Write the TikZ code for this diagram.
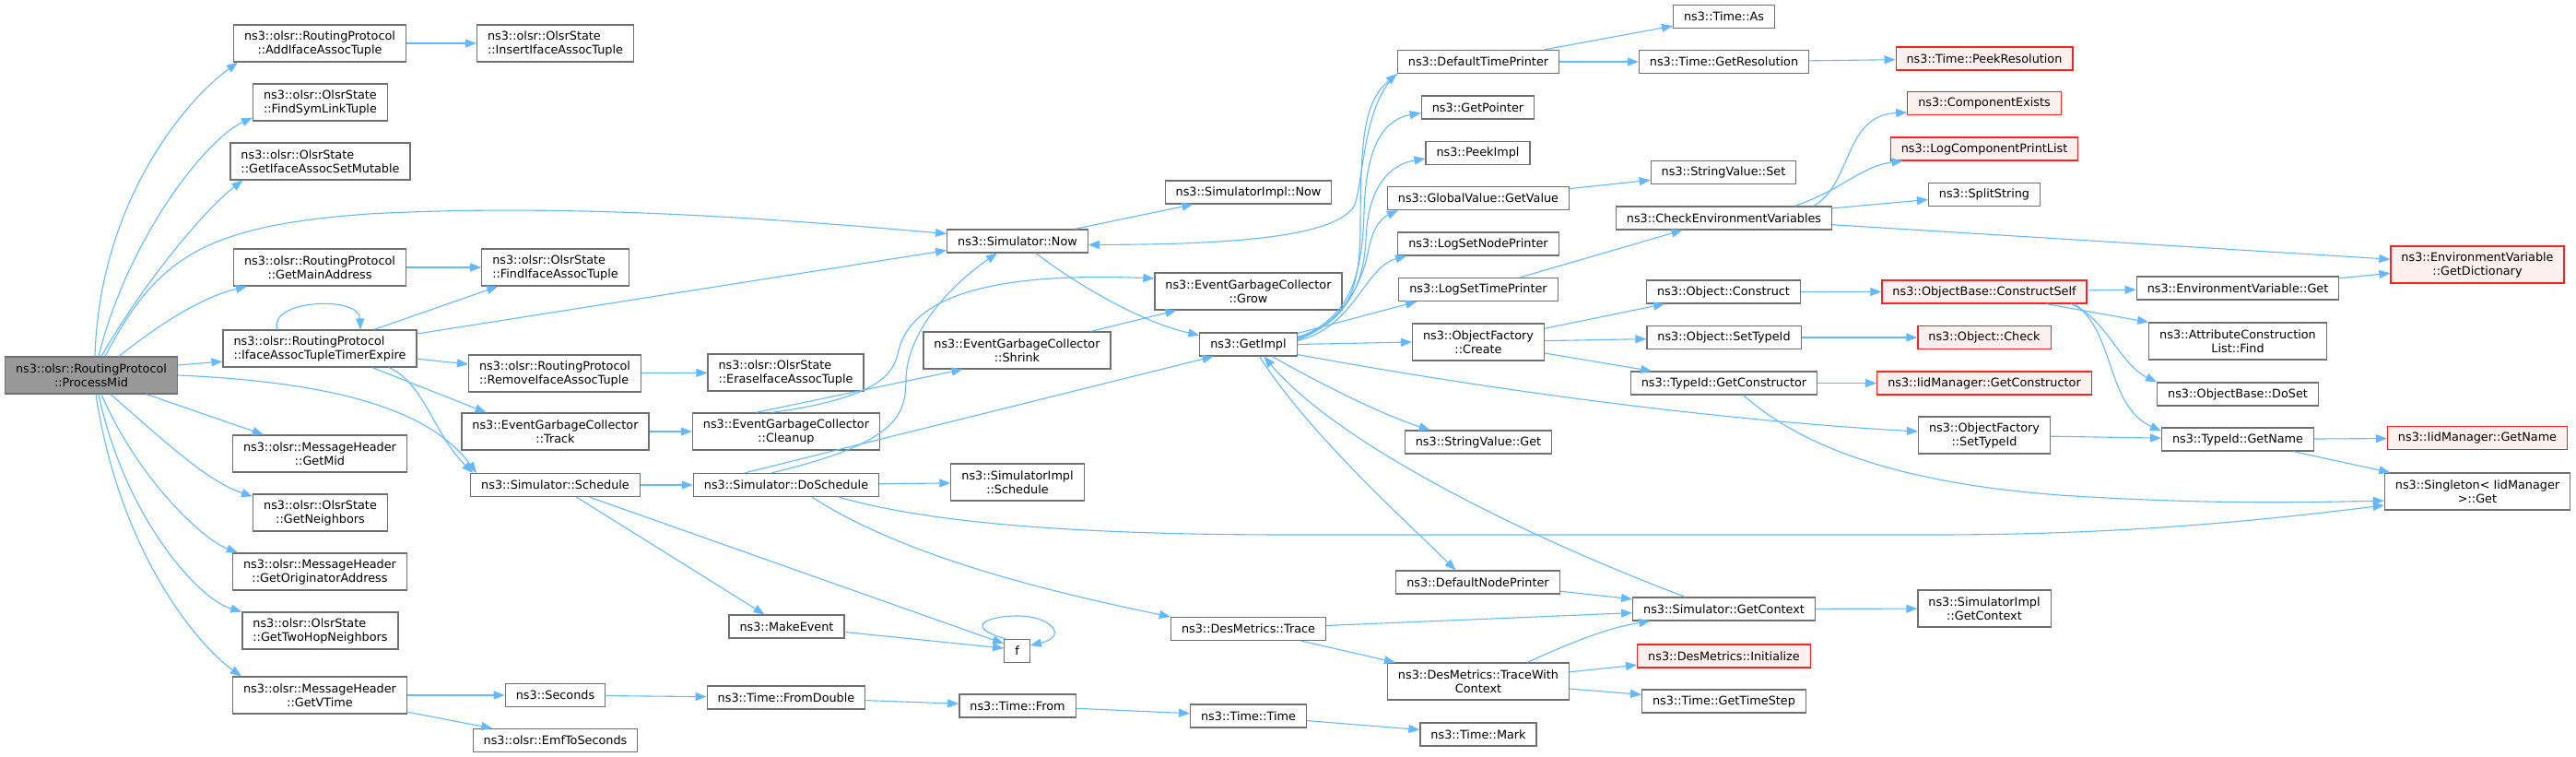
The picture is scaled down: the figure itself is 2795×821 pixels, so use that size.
\documentclass[tikz,border=0pt]{standalone}
\usepackage{fontspec}
\setmainfont{DejaVu Sans}
\usepackage{tikz}
\usetikzlibrary{arrows.meta}

\definecolor{edgeblue}{HTML}{63B8FF}
\definecolor{boxgray}{HTML}{707070}
\definecolor{rootgray}{HTML}{999999}
\definecolor{extfill}{HTML}{FFF0F0}
\definecolor{extred}{HTML}{FF2020}

\begin{document}
\begin{tikzpicture}[x=1pt, y=-1pt,
		fn/.style={draw=boxgray, line width=1.2pt, fill=white, minimum height=25pt, inner xsep=11.5pt, inner ysep=0pt, font=\fontsize{12.8}{15}\selectfont, align=center},
		two/.style={minimum height=40pt},
		lft/.style={align=left},
		ext/.style={draw=extred, fill=extfill},
		root/.style={fill=rootgray},
		call/.style={edgeblue, line width=1.1pt, -{Triangle[length=12pt,width=9pt]}}]
		\useasboundingbox (0,0) rectangle (2795,821);
		%%
		\node[fn,two,root] (pm) at (99,407) {ns3::olsr::RoutingProtocol\\::ProcessMid};
		%%
		\node[fn,two] (addt) at (347,47) {ns3::olsr::RoutingProtocol\\::AddIfaceAssocTuple};
		\node[fn,two,lft] (fslt) at (347.5,111) {ns3::olsr::OlsrState\\::FindSymLinkTuple};
		\node[fn,two,lft] (giasm) at (347.5,175) {ns3::olsr::OlsrState\\::GetIfaceAssocSetMutable};
		\node[fn,two] (gma) at (347,290) {ns3::olsr::RoutingProtocol\\::GetMainAddress};
		\node[fn,two,lft] (iatte) at (347,378) {ns3::olsr::RoutingProtocol\\::IfaceAssocTupleTimerExpire};
		\node[fn,two] (gmid) at (347,492) {ns3::olsr::MessageHeader\\::GetMid};
		\node[fn,two] (gnb) at (347.5,556) {ns3::olsr::OlsrState\\::GetNeighbors};
		\node[fn,two] (goa) at (347,620) {ns3::olsr::MessageHeader\\::GetOriginatorAddress};
		\node[fn,two,lft] (gthn) at (347.5,684) {ns3::olsr::OlsrState\\::GetTwoHopNeighbors};
		\node[fn,two] (gvt) at (347,754) {ns3::olsr::MessageHeader\\::GetVTime};
		%%
		\node[fn,two,lft] (insiat) at (602.5,47) {ns3::olsr::OlsrState\\::InsertIfaceAssocTuple};
		\node[fn,two,lft] (fiat) at (602.5,290) {ns3::olsr::OlsrState\\::FindIfaceAssocTuple};
		\node[fn,two,lft] (rmiat) at (602,405) {ns3::olsr::RoutingProtocol\\::RemoveIfaceAssocTuple};
		\node[fn,two] (egctrack) at (602.5,468) {ns3::EventGarbageCollector\\::Track};
		\node[fn] (sched) at (602.5,526) {ns3::Simulator::Schedule};
		\node[fn] (secs) at (602.5,754) {ns3::Seconds};
		\node[fn] (emf) at (602.5,803) {ns3::olsr::EmfToSeconds};
		%%
		\node[fn,two,lft] (eiat) at (852.5,404) {ns3::olsr::OlsrState\\::EraseIfaceAssocTuple};
		\node[fn,two] (egccleanup) at (853,468) {ns3::EventGarbageCollector\\::Cleanup};
		\node[fn] (dosched) at (853,526) {ns3::Simulator::DoSchedule};
		\node[fn] (mkev) at (853.5,679.5) {ns3::MakeEvent};
		\node[fn] (fromdbl) at (853,756.5) {ns3::Time::FromDouble};
		%%
		\node[fn] (now) at (1104,261.5) {ns3::Simulator::Now};
		\node[fn,two] (shrink) at (1103.5,380) {ns3::EventGarbageCollector\\::Shrink};
		\node[fn,two] (simschd) at (1104,523) {ns3::SimulatorImpl\\::Schedule};
		\node[fn] (f) at (1103.5,706) {f};
		\node[fn] (from) at (1104,765.5) {ns3::Time::From};
		%%
		\node[fn] (simnow) at (1354.5,208.5) {ns3::SimulatorImpl::Now};
		\node[fn,two] (grow) at (1354.5,316) {ns3::EventGarbageCollector\\::Grow};
		\node[fn] (getimpl) at (1354.5,373.5) {ns3::GetImpl};
		\node[fn] (trace) at (1354.5,682) {ns3::DesMetrics::Trace};
		\node[fn] (ttime) at (1354.5,776.5) {ns3::Time::Time};
		%%
		\node[fn] (dtp) at (1604,67) {ns3::DefaultTimePrinter};
		\node[fn] (gptr) at (1603.5,116.5) {ns3::GetPointer};
		\node[fn] (peek) at (1603.5,166) {ns3::PeekImpl};
		\node[fn] (gvval) at (1604,215) {ns3::GlobalValue::GetValue};
		\node[fn] (lsnp) at (1604,264.5) {ns3::LogSetNodePrinter};
		\node[fn] (lstp) at (1604,314) {ns3::LogSetTimePrinter};
		\node[fn,two] (ofcreate) at (1604,371) {ns3::ObjectFactory\\::Create};
		\node[fn] (svget) at (1604,479.5) {ns3::StringValue::Get};
		\node[fn] (dnp) at (1603.5,631.5) {ns3::DefaultNodePrinter};
		\node[fn,two] (twc) at (1604,739) {ns3::DesMetrics::TraceWith\\Context};
		\node[fn] (mark) at (1604,796.5) {ns3::Time::Mark};
		%%
		\node[fn] (tas) at (1870.5,18) {ns3::Time::As};
		\node[fn] (gres) at (1870.5,67) {ns3::Time::GetResolution};
		\node[fn] (svset) at (1870,187) {ns3::StringValue::Set};
		\node[fn] (cev) at (1870.5,236.5) {ns3::CheckEnvironmentVariables};
		\node[fn] (oconstr) at (1870,316.5) {ns3::Object::Construct};
		\node[fn] (osettid) at (1870.5,366) {ns3::Object::SetTypeId};
		\node[fn] (tgc) at (1870.5,415.5) {ns3::TypeId::GetConstructor};
		\node[fn] (sgctx) at (1870.5,660.5) {ns3::Simulator::GetContext};
		\node[fn,ext] (dminit) at (1870.5,711.5) {ns3::DesMetrics::Initialize};
		\node[fn] (gts) at (1870.5,760.5) {ns3::Time::GetTimeStep};
		%%
		\node[fn,ext] (peekres) at (2153,63.5) {ns3::Time::PeekResolution};
		\node[fn,ext] (compex) at (2153,112) {ns3::ComponentExists};
		\node[fn,ext] (lcpl) at (2153,161.5) {ns3::LogComponentPrintList};
		\node[fn] (split) at (2153,211) {ns3::SplitString};
		\node[fn,ext] (cself) at (2153,316.5) {ns3::ObjectBase::ConstructSelf};
		\node[fn,ext] (ocheck) at (2153,366) {ns3::Object::Check};
		\node[fn,ext] (iidgc) at (2153,415.5) {ns3::IidManager::GetConstructor};
		\node[fn,two] (ofsettid) at (2153,472) {ns3::ObjectFactory\\::SetTypeId};
		\node[fn,two] (sictx) at (2153,660) {ns3::SimulatorImpl\\::GetContext};
		%%
		\node[fn] (evget) at (2428,312.5) {ns3::EnvironmentVariable::Get};
		\node[fn,two] (acfind) at (2428,370) {ns3::AttributeConstruction\\List::Find};
		\node[fn] (doset) at (2428,427.5) {ns3::ObjectBase::DoSet};
		\node[fn] (gname) at (2428,476.5) {ns3::TypeId::GetName};
		%%
		\node[fn,two,ext] (getdict) at (2688,287) {ns3::EnvironmentVariable\\::GetDictionary};
		\node[fn,ext] (iidgn) at (2688,475) {ns3::IidManager::GetName};
		\node[fn,two] (sget) at (2688,533) {ns3::Singleton< IidManager\\>::Get};
		%%
		%% calls of ProcessMid
		\draw[call] ([xshift=4pt]pm.north) .. controls (108,220) and (200,110) .. ([xshift=5pt]addt.south west);
		\draw[call] ([xshift=8pt]pm.north) .. controls (140,255) and (225,150) .. ([yshift=4pt]fslt.south west);
		\draw[call] ([xshift=11pt]pm.north) .. controls (160,300) and (225,225) .. ([xshift=14pt]giasm.south west);
		\draw[call] ([xshift=15pt]pm.north) .. controls (170,280) and (220,245) .. (400,232) .. controls (620,220) and (850,238) .. ([yshift=8pt]now.west);
		\draw[call] ([xshift=30pt]pm.north) .. controls (175,350) and (220,322) .. ([xshift=15pt]gma.south west);
		\draw[call] ([yshift=11pt]pm.east) -- ([yshift=-14pt]iatte.west);
		\draw[call] (pm.east) .. controls (380,415) and (470,450) .. ([xshift=7pt]sched.north west);
		\draw[call] ([xshift=60pt]pm.south) -- ([xshift=34pt]gmid.north west);
		\draw[call] ([xshift=21pt]pm.south) .. controls (180,480) and (225,522) .. ([yshift=-3pt]gnb.north west);
		\draw[call] ([xshift=11pt]pm.south) .. controls (150,520) and (220,585) .. ([xshift=6pt]goa.north west);
		\draw[call] ([xshift=8pt]pm.south) .. controls (135,560) and (215,650) .. (gthn.north west);
		\draw[call] ([xshift=5pt]pm.south) .. controls (130,600) and (215,700) .. ([xshift=10pt]gvt.north west);
		%%
		\draw[call] (addt) -- (insiat);
		\draw[call] (gma) -- (fiat);
		\draw[call] ([xshift=-46pt]iatte.north) .. controls (290,325) and (390,320) .. ([xshift=44pt]iatte.north);
		\draw[call] ([xshift=59pt]iatte.north) -- ([xshift=18pt]fiat.south west);
		\draw[call] ([yshift=16pt]iatte.east) -- ([yshift=-10pt]now.west);
		\draw[call] (iatte) -- (rmiat);
		\draw[call] ([xshift=57pt]iatte.south) -- ([xshift=-75pt]egctrack.north);
		\draw[call] ([xshift=75pt]iatte.south) .. controls (460,415) and (470,470) .. ([xshift=3pt]sched.north west);
		\draw[call] (rmiat) -- (eiat);
		\draw[call] (egctrack) -- (egccleanup);
		\draw[call] (gvt) -- (secs);
		\draw[call] (gvt) -- (emf);
		%%
		\draw[call] (sched) -- (dosched);
		\draw[call] ([xshift=23pt]sched.south) -- ([xshift=-24pt]mkev.north);
		\draw[call] ([xshift=37pt]sched.south) -- ([yshift=8pt]f.west);
		\draw[call] ([yshift=-6pt]mkev.east) -- ([yshift=3pt]f.west);
		\draw[call] ([xshift=-12pt]f.north) .. controls (1045,680) and (1070,668) .. (1104,668) .. controls (1140,668) and (1160,690) .. ([yshift=6pt]f.east);
		\draw[call] ([xshift=-33pt]egccleanup.north) -- ([xshift=-59pt]shrink.south);
		\draw[call] ([xshift=-16pt]egccleanup.north) .. controls (965,430) and (970,400) .. (975,380) .. controls (990,320) and (1080,295) .. ([yshift=14pt]grow.west);
		\draw[call] ([xshift=-16pt]dosched.north) .. controls (975,480) and (983,450) .. (983,410) .. controls (985,360) and (1030,310) .. ([xshift=-22pt]now.south);
		\draw[call] ([xshift=-45pt]dosched.north) -- ([xshift=-38pt]getimpl.south);
		\draw[call] (dosched) -- (simschd);
		\draw[call] ([xshift=57pt]dosched.south) .. controls (1000,565) and (1150,580) .. (1400,580) -- (2100,580) .. controls (2300,580) and (2450,565) .. ([yshift=-15pt]sget.west);
		\draw[call] ([xshift=28pt]dosched.south) .. controls (960,590) and (1080,630) .. (trace.north west);
		\draw[call] (secs) -- (fromdbl);
		\draw[call] (fromdbl) -- (from);
		\draw[call] (from) -- (ttime);
		\draw[call] (ttime) -- (mark);
		%%
		\draw[call] ([xshift=80pt]shrink.north) -- ([xshift=-78pt]grow.south);
		\draw[call] ([xshift=62pt]now.north) -- ([xshift=-60pt]simnow.south);
		\draw[call] ([xshift=20pt]now.south) .. controls (1170,310) and (1240,350) .. ([yshift=10pt]getimpl.west);
		\draw[call] (dtp.south west) .. controls (1480,110) and (1480,190) .. (1470,222) .. controls (1450,262) and (1300,265) .. ([yshift=-4pt]now.east);
		%% calls of GetImpl
		\draw[call] ([yshift=8pt]getimpl.east) .. controls (1460,350) and (1475,320) .. (1476,250) .. controls (1476,150) and (1480,110) .. (dtp.south west);
		\draw[call] ([yshift=7pt]getimpl.east) .. controls (1465,345) and (1478,300) .. (1480,230) .. controls (1482,160) and (1500,130) .. ([yshift=-6pt]gptr.west);
		\draw[call] ([yshift=6pt]getimpl.east) .. controls (1468,345) and (1480,300) .. (1482,260) .. controls (1484,200) and (1510,178) .. ([yshift=-6pt]peek.west);
		\draw[call] ([yshift=5pt]getimpl.east) .. controls (1460,350) and (1480,300) .. (1485,270) .. controls (1490,245) and (1500,236) .. ([xshift=12pt]gvval.south west);
		\draw[call] ([yshift=4pt]getimpl.east) .. controls (1470,355) and (1480,290) .. ([xshift=10pt]lsnp.south west);
		\draw[call] ([yshift=12pt]getimpl.east) -- ([xshift=20pt]lstp.south west);
		\draw[call] (getimpl.east) -- (ofcreate.west);
		\draw[call] ([xshift=26pt]getimpl.south) .. controls (1430,415) and (1500,450) .. ([xshift=28pt]svget.north west);
		\draw[call] ([yshift=-11pt]getimpl.east) .. controls (1600,420) and (1850,455) .. ([yshift=4pt]ofsettid.west);
		\draw[call] ([xshift=12pt]getimpl.south) .. controls (1420,470) and (1520,560) .. ([xshift=-24pt]dnp.north);
		\draw[call] ([xshift=-42pt]sgctx.north) .. controls (1650,580) and (1450,480) .. ([xshift=17pt]getimpl.south);
		%%
		\draw[call] (dtp) -- (tas);
		\draw[call] (dtp) -- (gres);
		\draw[call] (gres) -- (peekres);
		\draw[call] (gvval) -- (svset);
		\draw[call] (lstp) -- (cev);
		\draw[call] ([xshift=97pt]cev.north) .. controls (2010,200) and (2000,125) .. ([yshift=-10pt]compex.west);
		\draw[call] ([xshift=77pt]cev.north) .. controls (2000,205) and (2020,180) .. ([xshift=14pt]lcpl.south west);
		\draw[call] (cev) -- (split);
		\draw[call] (cev) -- (getdict);
		\draw[call] (ofcreate) -- (oconstr);
		\draw[call] (ofcreate) -- (osettid);
		\draw[call] (ofcreate) -- (tgc);
		\draw[call] (oconstr) -- (cself);
		\draw[call] (osettid) -- (ocheck);
		\draw[call] (tgc) -- (iidgc);
		\draw[call] ([xshift=21pt]tgc.south) .. controls (1950,480) and (2050,525) .. (2250,538) .. controls (2400,547) and (2500,545) .. ([yshift=-10pt]sget.west);
		%%
		\draw[call] (cself) -- (evget);
		\draw[call] ([xshift=67pt]cself.south) -- (acfind.north west);
		\draw[call] ([xshift=94pt]cself.south) .. controls (2285,345) and (2300,395) .. (doset.north west);
		\draw[call] ([xshift=98pt]cself.south) .. controls (2295,360) and (2285,440) .. ([yshift=9pt]gname.west);
		\draw[call] (evget) -- (getdict);
		\draw[call] (ofsettid) -- (gname);
		\draw[call] (gname) -- (iidgn);
		\draw[call] (gname) -- (sget);
		%%
		\draw[call] (dnp) -- (sgctx);
		\draw[call] (trace) -- (sgctx);
		\draw[call] (trace) -- (twc);
		\draw[call] ([xshift=53pt]twc.north) .. controls (1720,690) and (1750,680) .. ([xshift=-80pt]sgctx.south);
		\draw[call] (twc) -- (dminit);
		\draw[call] (twc) -- (gts);
		\draw[call] (sgctx) -- (sictx);
\end{tikzpicture}
\end{document}
